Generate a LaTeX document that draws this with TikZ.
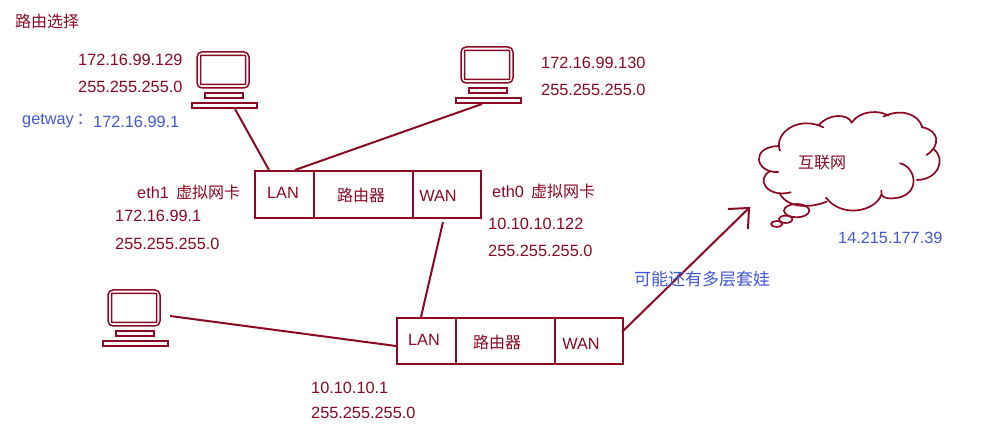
\documentclass[tikz,border=0pt]{standalone}
\usepackage{fontspec}
\setmainfont{Liberation Sans}
\newfontfamily\cjk{Noto Sans CJK SC}
\definecolor{wine}{HTML}{8A0A24}
\definecolor{linkblue}{HTML}{4358D6}
\tikzset{
  redtext/.style={text=wine,anchor=west,inner sep=0pt,font=\fontsize{16.3}{16}\selectfont},
  bluetext/.style={text=linkblue,anchor=west,inner sep=0pt,font=\fontsize{16.3}{16}\selectfont},
  celltext/.style={text=wine,inner sep=0pt,font=\fontsize{16.3}{16}\selectfont},
  hanlabel/.style={text=wine,inner sep=0pt,font=\cjk\fontsize{16}{16}\selectfont},
  cell/.style={draw=wine,line width=2pt,inner sep=0pt,anchor=north west},
  wire/.style={draw=wine,line width=2pt},
  sketch/.style={draw=wine,line width=1.7pt,line cap=round},
  pcpart/.style={draw=wine,line width=1.5pt,fill=white},
  pc/.pic={
    \draw[pcpart,rounded corners=5pt] (0,0) rectangle (52,36);
    \draw[pcpart,rounded corners=0.5pt] (3.5,3.5) rectangle (48.5,32.5);
    \draw[pcpart] (8,41) rectangle (46,46);
    \draw[pcpart] (-5,51) rectangle (60,56);
  }
}
\begin{document}
\begin{tikzpicture}[x=1pt,y=-1pt]
\useasboundingbox (0,0) rectangle (986,435);
\fill[white] (0,0) rectangle (986,435);

% Hosts
\pic at (197,52) {pc};
\pic at (461,47) {pc};
\pic at (108,290) {pc};
\coordinate (hostA) at (235,109);
\coordinate (hostB) at (482,104);
\coordinate (hostC) at (170,316);

% First router
\node[cell,minimum width=59pt,minimum height=47pt] (lanA) at (254,170) {};
\node[cell,minimum width=99pt,minimum height=47pt] (coreA) at (313,170) {};
\node[cell,minimum width=68pt,minimum height=47pt] (wanA) at (412,170) {};
\node[celltext] (lanAt) at (283,193) {LAN};
\node[hanlabel] (coreAt) at (361,195) {路由器};
\node[celltext] (wanAt) at (438,196) {WAN};

% Second router
\node[cell,minimum width=59pt,minimum height=46pt] (lanB) at (396,317) {};
\node[cell,minimum width=99pt,minimum height=46pt] (coreB) at (455,317) {};
\node[cell,minimum width=68pt,minimum height=46pt] (wanB) at (554,317) {};
\node[celltext] (lanBt) at (424,340) {LAN};
\node[hanlabel] (coreBt) at (497,342) {路由器};
\node[celltext] (wanBt) at (581,344) {WAN};

% Connectors
\coordinate (lanAl) at (269,170);
\coordinate (lanAr) at (295,170);
\coordinate (wanAd) at (443,222);
\coordinate (lanBu) at (421,317);
\coordinate (lanBl) at (396,346);
\coordinate (wanBr) at (622,332);
\coordinate (tip) at (749,208);
\coordinate (barbA) at (728,209);
\coordinate (barbB) at (748,229);
\draw[wire] (hostA) -- (lanAl);
\draw[wire] (hostB) -- (lanAr);
\draw[wire] (wanAd) -- (lanBu);
\draw[wire] (hostC) -- (lanBl);
\draw[wire] (wanBr) -- (tip);
\draw[wire] (barbA) -- (tip) -- (barbB);

% Cloud, sketched lobe by lobe
\begin{scope}[shift={(720,100)},x=0.3333pt,y=-0.3333pt]
\draw[sketch] (180,152) .. controls (160,100) and (235,45) .. (310,82);
\draw[sketch] (296,76) .. controls (325,40) and (385,40) .. (395,68);
\draw[sketch] (395,68) .. controls (420,30) and (480,30) .. (505,47);
\draw[sketch] (490,50) .. controls (540,25) and (595,40) .. (607,82);
\draw[sketch] (607,82) .. controls (655,90) and (665,135) .. (620,165);
\draw[sketch] (640,147) .. controls (680,175) and (655,240) .. (590,240);
\draw[sketch] (540,190) .. controls (590,200) and (605,290) .. (520,295) .. controls (495,297) and (480,290) .. (484,272);
\draw[sketch] (484,285) .. controls (465,335) and (365,355) .. (318,293);
\draw[sketch] (320,305) .. controls (270,325) and (205,325) .. (180,282);
\draw[sketch] (212,277) .. controls (140,295) and (105,235) .. (152,213);
\draw[sketch] (175,216) .. controls (105,220) and (90,140) .. (176,138);
\draw[sketch] (230,332) ellipse [x radius=38,y radius=20];
\draw[sketch] (197,358) ellipse [x radius=20,y radius=11];
\draw[sketch] (170,372) ellipse [x radius=17,y radius=9];
\end{scope}

% Labels
\node[text=wine,anchor=west,inner sep=0pt,font=\cjk\fontsize{16}{16}\selectfont] (title) at (15,21) {路由选择};
\node[redtext] (ipA) at (78,60) {172.16.99.129};
\node[redtext] (maskA) at (78,87) {255.255.255.0};
\node[bluetext] (gwName) at (22,121) {getway\,{\cjk ：}};
\node[bluetext] (gwAddr) at (93,122) {172.16.99.1};
\node[redtext] (ipB) at (541,63) {172.16.99.130};
\node[redtext] (maskB) at (541,90) {255.255.255.0};
\node[redtext] (ethOne) at (137,192) {eth1 \,{\cjk\fontsize{16}{16}\selectfont 虚拟网卡}};
\node[redtext] (ipC) at (115,216) {172.16.99.1};
\node[redtext] (maskC) at (115,244) {255.255.255.0};
\node[redtext] (ethZero) at (492,191) {eth0 \,{\cjk\fontsize{16}{16}\selectfont 虚拟网卡}};
\node[redtext] (ipD) at (488,224) {10.10.10.122};
\node[redtext] (maskD) at (488,251) {255.255.255.0};
\node[redtext] (ipE) at (311,388) {10.10.10.1};
\node[redtext] (maskE) at (311,413) {255.255.255.0};
\node[hanlabel] (net) at (822,163) {互联网};
\node[bluetext] (netAddr) at (838,238) {14.215.177.39};
\node[bluetext,font=\cjk\fontsize{17}{17}\selectfont] (nested) at (634,279) {可能还有多层套娃};
\end{tikzpicture}
\end{document}
